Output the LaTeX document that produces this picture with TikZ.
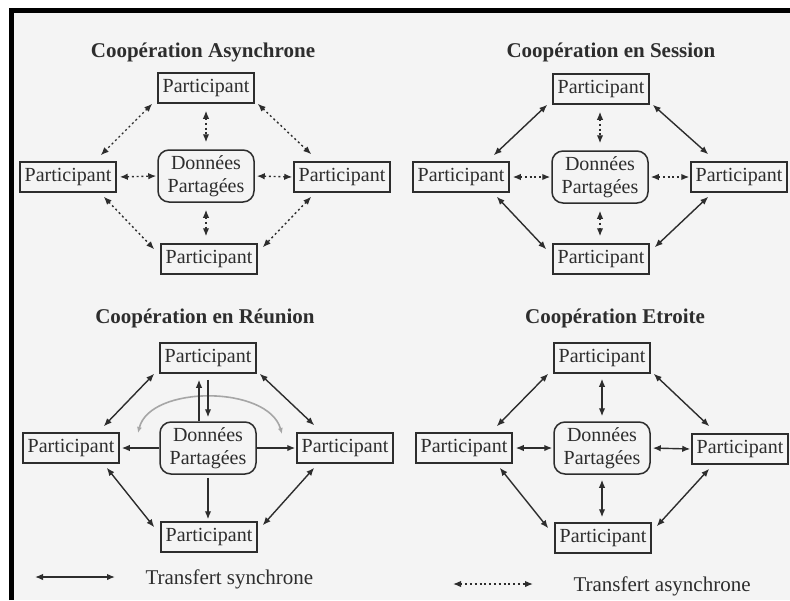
\documentclass[tikz,border=0pt]{standalone}
\usepackage{fontspec}
\setmainfont{Liberation Serif}
\usetikzlibrary{arrows.meta}
\definecolor{bgc}{RGB}{244,244,244}
\definecolor{ink}{RGB}{45,45,45}
\newcommand\fourdiag[2]{%
  \draw[#2] ([shift={(-5,0)}]#1T.south west) -- ([shift={(-16,-6)}]#1L.north east);
  \draw[#2] ([shift={(3,0)}]#1T.south east) -- ([shift={(18,-7)}]#1R.north west);
  \draw[#2] ([shift={(-13,4)}]#1L.south east) -- ([shift={(-6,6)}]#1B.north west);
  \draw[#2] ([shift={(18,4)}]#1R.south west) -- ([shift={(5,4)}]#1B.north east);
}
\newcommand\fourcenter[3]{%
  \draw[#2,shorten <=#3,shorten >=#3] (#1D.north |- #1T.south) -- (#1D.north);
  \draw[#2,shorten <=#3,shorten >=#3] (#1D.south) -- (#1D.south |- #1B.north);
  \draw[#2,shorten <=3pt,shorten >=1pt] (#1L.east) -- (#1D.west);
  \draw[#2,shorten <=2pt,shorten >=1pt] (#1D.east) -- (#1R.west);
}
\begin{document}
\begin{tikzpicture}[x=1pt,y=-1pt,
  >={Latex[length=8pt,width=6.5pt]},
  part/.style={draw=ink,line width=1.5pt,minimum width=96pt,minimum height=30pt,inner sep=0pt,text=ink,font=\fontsize{20}{22}\selectfont},
  data/.style={draw=ink,line width=1.5pt,rounded corners=11pt,minimum width=96pt,minimum height=52pt,inner sep=0pt,align=center,text=ink,font=\fontsize{20}{23}\selectfont},
  ttl/.style={anchor=base,text=ink,font=\bfseries\fontsize{21}{24}\selectfont},
  leg/.style={anchor=base west,text=ink,font=\fontsize{21}{24}\selectfont},
  syn/.style={draw=ink,line width=1.4pt,<->},
  asy/.style={syn,dash pattern=on 2pt off 2.8pt},
  one/.style={draw=ink,line width=1.4pt,->},
  arcg/.style={draw=black!35,line width=1.6pt,<->,>={Latex[length=6pt,width=5pt]}},
]
\useasboundingbox (0,0) rectangle (790,600);
\fill[white] (0,0) rectangle (790,600);
\fill[bgc] (12,11) rectangle (790,600);
\draw[line width=5pt,line join=miter] (11.5,600) -- (11.5,10.5) -- (790,10.5);

% ---- Q1 Cooperation Asynchrone
\node[ttl] (t1) at (203,57) {Coopération Asynchrone};
\node[part] (aT) at (206,88) {Participant};
\node[part] (aL) at (68,177) {Participant};
\node[part] (aR) at (342,177) {Participant};
\node[part] (aB) at (209,259) {Participant};
\node[data] (aD) at (206,176) {Données\\Partagées};
\fourdiag{a}{asy}
\fourcenter{a}{asy}{7pt}

% ---- Q2 Cooperation en Session
\node[ttl] (t2) at (611,57) {Coopération en Session};
\node[part] (bT) at (601,89) {Participant};
\node[part] (bL) at (461,177) {Participant};
\node[part] (bR) at (739,177) {Participant};
\node[part] (bB) at (601,259) {Participant};
\node[data] (bD) at (600,177) {Données\\Partagées};
\fourdiag{b}{syn}
\fourcenter{b}{asy}{7pt}

% ---- Q3 Cooperation en Reunion
\node[ttl] (t3) at (205,323) {Coopération en Réunion};
\coordinate (g1) at (138,433);
\coordinate (g2) at (282,434);
\draw[arcg] (g1) .. controls (150,385) and (268,385) .. (g2);
\node[part] (cT) at (208,358) {Participant};
\node[part] (cL) at (71,448) {Participant};
\node[part] (cR) at (345,448) {Participant};
\node[part] (cB) at (209,537) {Participant};
\node[data] (cD) at (208,448) {Données\\Partagées};
\fourdiag{c}{syn}
\draw[one,shorten >=6pt] ([shift={(-9,0)}]cD.north) -- ([shift={(-9,0)}]cT.south);
\draw[one,shorten <=6pt,shorten >=4pt] (cT.south) -- (cD.north);
\draw[one,shorten >=2pt] (cD.west) -- (cL.east);
\draw[one,shorten >=1pt] (cD.east) -- (cR.west);
\draw[one,shorten <=3pt,shorten >=2pt] (cD.south) -- (cD.south |- cB.north);

% ---- Q4 Cooperation Etroite
\node[ttl] (t4) at (615,323) {Coopération Etroite};
\node[part] (dT) at (602,358) {Participant};
\node[part] (dL) at (464,448) {Participant};
\node[part] (dR) at (740,449) {Participant};
\node[part] (dB) at (603,538) {Participant};
\node[data] (dD) at (602,448) {Données\\Partagées};
\fourdiag{d}{syn}
\fourcenter{d}{syn}{5pt}

% ---- Legend
\coordinate (s1) at (35,577);
\coordinate (s2) at (115,577);
\draw[syn] (s1) -- (s2);
\node[leg] (ls) at (142,584) {Transfert synchrone};
\coordinate (a1) at (453,584);
\coordinate (a2) at (533,584);
\draw[asy] (a1) -- (a2);
\node[leg] (la) at (570,591) {Transfert asynchrone};
\end{tikzpicture}
\end{document}
